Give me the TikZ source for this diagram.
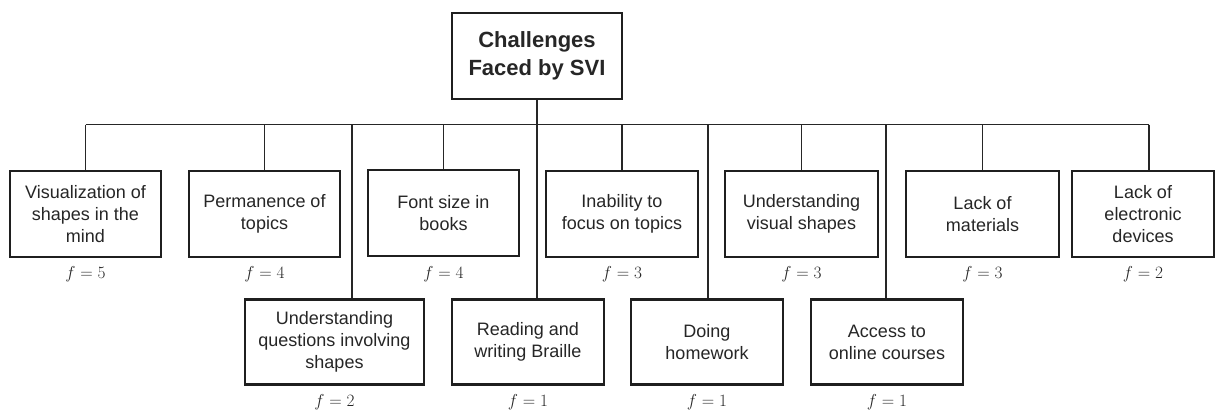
\documentclass[tikz,border=0pt]{standalone}
\usepackage{fontspec}
\setmainfont{Liberation Sans}
\begin{document}
\begin{tikzpicture}[x=1pt,y=-1pt,
  box/.style={draw=black!88, line width=2.4pt, fill=white, align=center,
    inner sep=0pt, minimum height=86pt, text=black!85,
    font=\fontsize{18}{22}\selectfont},
  rootbox/.style={box, minimum width=170pt, font=\fontsize{22}{28}\selectfont\bfseries},
  link/.style={draw=black!85, line width=1.3pt},
  freq/.style={inner sep=0pt, text=black!85, font=\fontsize{17.28}{20}\selectfont}]
\useasboundingbox (0,0) rectangle (1216,410);

% root
\node[rootbox] (root) at (537,56) {Challenges\\Faced by SVI};

% upper row of challenges
\node[box, minimum width=151pt] (v1) at (85.5,214) {Visualization of\\shapes in the\\mind};
\node[box, minimum width=151pt] (v2) at (264.5,214) {Permanence of\\topics};
\node[box, minimum width=151pt] (v3) at (443.5,213) {Font size in\\books};
\node[box, minimum width=152pt] (v4) at (622,214) {Inability to\\focus on topics};
\node[box, minimum width=153pt] (v5) at (801.5,214) {Understanding\\visual shapes};
\node[box, minimum width=153pt] (v6) at (982.5,214) {Lack of\\materials};
\node[box, minimum width=142pt] (v7) at (1143,214) {Lack of\\electronic\\devices};

% lower row of challenges
\node[box, minimum width=179pt, minimum height=85pt] (b1) at (334.5,342) {Understanding\\questions involving\\shapes};
\node[box, minimum width=152pt, minimum height=85pt] (b2) at (528,342) {Reading and\\writing Braille};
\node[box, minimum width=152pt, minimum height=85pt] (b3) at (707,342) {Doing\\homework};
\node[box, minimum width=152pt, minimum height=85pt] (b4) at (887,342) {Access to\\online courses};

% frequencies
\foreach \n/\f in {v1/5,v2/4,v3/4,v4/3,v5/3,v6/3,v7/2}
  \node[freq] (f\n) at (\n.south |- 0,274) {$f = \f$};
\foreach \n/\f in {b1/2,b2/1,b3/1,b4/1}
  \node[freq] (f\n) at (\n.south |- 0,402) {$f = \f$};

% bus and connectors
\coordinate (busL) at (85.5,124.5);
\coordinate (busR) at (1149,124.5);
\coordinate (d1) at (352,124.5);
\coordinate (d3) at (708,124.5);
\coordinate (d4) at (886,124.5);
\draw[link] (busL) -- (busR);
\draw[link] (root.south) -- (root.south |- b2.north);
\foreach \n in {v1,v2,v3,v4,v5,v6}
  \draw[link] (\n.north |- busL) -- (\n.north);
\draw[link] (busR) -- (busR |- v7.north);
\draw[link] (d1) -- (d1 |- b1.north);
\draw[link] (d3) -- (d3 |- b3.north);
\draw[link] (d4) -- (d4 |- b4.north);
\end{tikzpicture}
\end{document}
